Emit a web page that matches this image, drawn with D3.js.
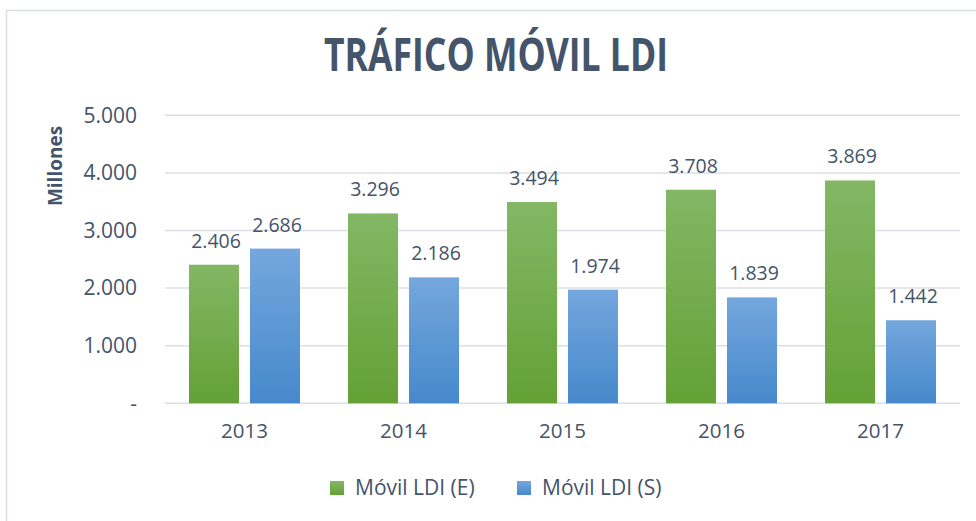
<!DOCTYPE html>
<html>
<head>
<meta charset="utf-8">
<script src="https://cdn.jsdelivr.net/npm/d3@7"></script>
<style>
  body { margin: 0; background: #fff; }
  svg { display: block; font-family: "Open Sans", sans-serif; }
</style>
</head>
<body>
<svg width="976" height="521"></svg>
<script>
const years = ["2013", "2014", "2015", "2016", "2017"];
const seriesNames = ["Móvil LDI (E)", "Móvil LDI (S)"];
const entrante = [2406, 3296, 3494, 3708, 3869];
const saliente = [2686, 2186, 1974, 1839, 1442];
const yTicks = [0, 1000, 2000, 3000, 4000, 5000];

const svg = d3.select("svg");
const textColor = "#44546a";

const loc = d3.formatLocale({decimal: ",", thousands: ".", grouping: [3], currency: ["", ""]});
const fmt = loc.format(",d");

// gradients like the office style fill
const defs = svg.append("defs");
const grads = [
    {id: "gE", top: "#83b765", bottom: "#64a136"},
    {id: "gS", top: "#74a7dd", bottom: "#4689cc"}
];
grads.forEach(g => {
    const lg = defs.append("linearGradient")
        .attr("id", g.id)
        .attr("x1", 0).attr("y1", 0).attr("x2", 0).attr("y2", 1);
    lg.append("stop").attr("offset", "0%").attr("stop-color", g.top);
    lg.append("stop").attr("offset", "100%").attr("stop-color", g.bottom);
});

// chart frame
svg.append("rect")
    .attr("x", 6.5).attr("y", 10.5)
    .attr("width", 1000).attr("height", 600)
    .attr("fill", "none")
    .attr("stroke", "#d9dde4")
    .attr("stroke-width", 1.5);

// title
svg.append("text")
    .attr("x", 496).attr("y", 71)
    .attr("text-anchor", "middle")
    .attr("font-size", 47)
    .attr("font-weight", 700)
    .attr("fill", textColor)
    .attr("textLength", 344)
    .attr("lengthAdjust", "spacingAndGlyphs")
    .text("TRÁFICO MÓVIL LDI");

const x0 = d3.scaleBand().domain(years).range([165, 960]);
const x1 = d3.scaleBand().domain(seriesNames).range([0, 111]).paddingInner(0.18);
const groupOffset = (x0.bandwidth() - 111) / 2;
const y = d3.scaleLinear().domain([0, 5000]).range([403.3, 115.3]);

// gridlines
svg.append("g")
    .selectAll("line")
    .data(yTicks)
    .join("line")
    .attr("x1", 165).attr("x2", 960)
    .attr("y1", d => y(d)).attr("y2", d => y(d))
    .attr("stroke", "#dcdfe5")
    .attr("stroke-width", 1.5);

// y axis labels
const yAxis = svg.append("g")
    .attr("transform", "translate(165,0)")
    .call(d3.axisLeft(y).tickValues(yTicks).tickSize(0).tickPadding(28)
        .tickFormat(d => d === 0 ? "-" : fmt(d)));
yAxis.select(".domain").remove();
yAxis.selectAll("text")
    .attr("font-size", 21)
    .attr("font-family", "Open Sans, sans-serif")
    .attr("fill", textColor);

// x axis labels
const xAxis = svg.append("g")
    .attr("transform", "translate(0,403.3)")
    .call(d3.axisBottom(x0).tickSize(0).tickPadding(20));
xAxis.select(".domain").remove();
xAxis.selectAll("text")
    .attr("font-size", 20.5)
    .attr("font-family", "Open Sans, sans-serif")
    .attr("fill", textColor);

// y title
svg.append("text")
    .attr("transform", "translate(62,166) rotate(-90)")
    .attr("text-anchor", "middle")
    .attr("font-size", 19)
    .attr("font-weight", 700)
    .attr("fill", textColor)
    .text("Millones");

const rows = years.map((yr, i) => ({
    year: yr,
    vals: [
        {name: seriesNames[0], value: entrante[i], fill: "url(#gE)"},
        {name: seriesNames[1], value: saliente[i], fill: "url(#gS)"}
    ]
}));

const groups = svg.append("g")
    .selectAll("g")
    .data(rows)
    .join("g")
    .attr("transform", d => `translate(${x0(d.year) + groupOffset},0)`);

groups.selectAll("rect")
    .data(d => d.vals)
    .join("rect")
    .attr("x", d => x1(d.name))
    .attr("y", d => y(d.value))
    .attr("width", x1.bandwidth())
    .attr("height", d => y(0) - y(d.value))
    .attr("fill", d => d.fill);

groups.selectAll("text")
    .data(d => d.vals)
    .join("text")
    .attr("x", d => x1(d.name) + x1.bandwidth() / 2 + 2)
    .attr("y", d => y(d.value) - 17)
    .attr("text-anchor", "middle")
    .attr("font-size", 19.5)
    .attr("fill", textColor)
    .text(d => fmt(d.value));

// legend
const legendX = [330, 517];
const legend = svg.append("g")
    .selectAll("g")
    .data(seriesNames)
    .join("g")
    .attr("transform", (d, i) => `translate(${legendX[i]},481)`);
legend.append("rect")
    .attr("width", 14).attr("height", 14)
    .attr("fill", (d, i) => i === 0 ? "url(#gE)" : "url(#gS)");
legend.append("text")
    .attr("x", 25).attr("y", 14)
    .attr("font-size", 21)
    .attr("fill", textColor)
    .text(d => d);
</script>
</body>
</html>
